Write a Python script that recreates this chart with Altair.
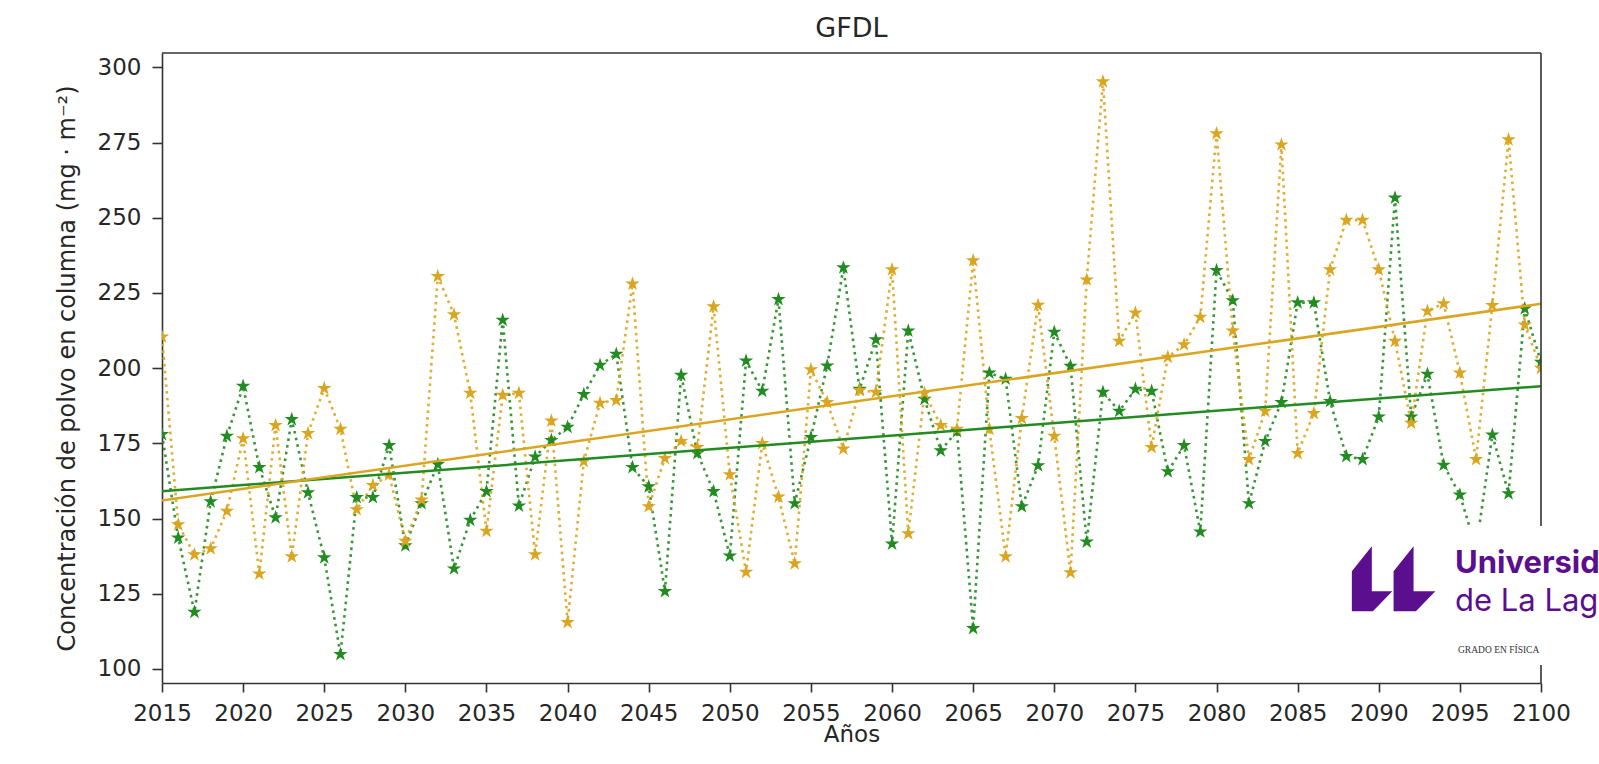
import altair as alt
import pandas as pd

years = list(range(2015, 2101))

green = [178, 143.6, 118.9, 155.6, 177.4, 194, 167, 150.3, 183, 158.6,
         137, 104.8, 157, 157, 174.3, 141, 155, 168, 133.3, 149.5,
         159, 216, 154.2, 170.5, 176, 180.4, 191.3, 201, 204.7, 167,
         160.6, 125.8, 197.7, 171.7, 159, 137.6, 202.4, 192.4, 222.9, 155,
         177, 200.8, 233.4, 193, 209.5, 141.6, 212.4, 189.7, 172.6, 179,
         113.5, 198.4, 196.4, 154, 167.6, 212, 200.7, 142.2, 192, 185.7,
         193, 192.4, 165.6, 174.3, 145.6, 232.5, 222.5, 155, 175.7, 188.6,
         221.8, 221.8, 189, 170.7, 169.7, 183.8, 256.6, 183.8, 198, 167.8,
         157.9, 140, 177.8, 158.3, 219.8, 202]

orange = [210.4, 148, 138, 140, 152.5, 176.6, 131.6, 181, 137.3, 178.3,
          193.3, 179.7, 153, 161, 164.5, 142.5, 156.2, 230.5, 217.8, 191.7,
          145.8, 191, 191.7, 138, 182.5, 115.5, 169, 188.4, 189.3, 228,
          154, 170, 175.7, 173.7, 220.5, 164.6, 132.2, 175, 157.2, 135,
          199.5, 188.6, 173.2, 192.6, 192, 232.8, 145, 191.7, 181, 179.7,
          235.8, 179.7, 137.3, 183.3, 221, 177.4, 132, 229.4, 295.3, 209,
          218.4, 173.7, 203.7, 207.8, 217, 278, 212.4, 169.7, 185.7, 274.3,
          171.7, 185, 232.8, 249.2, 249.2, 232.8, 209, 181.7, 219, 221.5,
          198.4, 169.7, 220.9, 276, 214.4, 200]

series = ["verde", "naranja"]
colors = ["#228B22", "#DAA520"]
x_ticks = list(range(2015, 2101, 5))
y_ticks = list(range(100, 301, 25))

df = pd.DataFrame({
    "year": years + years,
    "value": green + orange,
    "serie": [series[0]] * len(years) + [series[1]] * len(years),
})

FONT = "DejaVu Sans"
TXT = "#262626"
FRAME = "#333333"
PURPLE = "#5b0f8e"
W, H = 1379, 630

STAR = ("M0,-1 L0.2245,-0.309 L0.951,-0.309 L0.363,0.118 L0.588,0.809 "
        "L0,0.382 L-0.588,0.809 L-0.363,0.118 L-0.951,-0.309 L-0.2245,-0.309 Z")

xenc = alt.X("year:Q", scale=alt.Scale(domain=[2015, 2100], nice=False, zero=False),
             axis=alt.Axis(values=x_ticks, format="d", title="Años", labelFlush=False))
yenc = alt.Y("value:Q", scale=alt.Scale(domain=[95.3, 304.8], nice=False, zero=False),
             axis=alt.Axis(values=y_ticks, title="Concentración de polvo en columna (mg · m⁻²)"))
cenc = alt.Color("serie:N", scale=alt.Scale(domain=series, range=colors), legend=None)

base = alt.Chart(df)

lines = base.mark_line(strokeDash=[2.6, 4.2], strokeWidth=2.6, opacity=0.9, clip=True).encode(
    x=xenc, y=yenc, color=cenc, detail="serie:N")
points = base.mark_point(shape=STAR, filled=True, size=230, opacity=1, clip=True).encode(
    x=xenc, y=yenc, color=cenc)
trend = base.transform_regression("year", "value", groupby=["serie"]).mark_line(
    strokeWidth=2.5, clip=True).encode(x=xenc, y=yenc, color=cenc)

one = alt.Chart(pd.DataFrame({"a": [0]}))
frame_top = one.mark_rule(color=FRAME, strokeWidth=1.6).encode(
    x=alt.value(0), x2=alt.value(W), y=alt.value(0))
frame_right = one.mark_rule(color=FRAME, strokeWidth=1.6).encode(
    x=alt.value(W), y=alt.value(0), y2=alt.value(H))
cover = one.mark_rect(color="white").encode(
    x=alt.value(1160), x2=alt.value(1440), y=alt.value(473), y2=alt.value(612))

logo_path = ("M-1,-0.178 L-0.526,-0.771 L-0.526,0.297 L-0.04,0.297 L-0.5,0.771 L-1,0.771 Z "
             "M-0.01,-0.178 L0.464,-0.771 L0.464,0.297 L0.98,0.297 L0.52,0.771 L-0.01,0.771 Z")
logo = one.mark_point(shape=logo_path, filled=True, color=PURPLE, opacity=1, size=7106).encode(
    x=alt.value(1232), y=alt.value(525.7))
t1 = one.mark_text(text="Universidad", align="left", baseline="alphabetic", font="Inter",
                   fontWeight="bold", fontSize=31, color=PURPLE).encode(
    x=alt.value(1293), y=alt.value(520))
t2 = one.mark_text(text="de La Laguna", align="left", baseline="alphabetic", font="Inter",
                   fontSize=31, color=PURPLE).encode(
    x=alt.value(1293), y=alt.value(558))
t3 = one.mark_text(text="GRADO EN FÍSICA", align="left", baseline="alphabetic",
                   font="Liberation Serif", fontSize=9.5, color="#333333").encode(
    x=alt.value(1296), y=alt.value(599.5))

chart = alt.layer(lines, points, trend, frame_top, frame_right, cover, logo, t1, t2, t3).properties(
    width=W, height=H,
    title=alt.TitleParams("GFDL", fontSize=27, font=FONT, fontWeight="normal", color=TXT, offset=9),
    autosize=alt.AutoSizeParams(type="none"),
    padding={"left": 162, "top": 53, "right": 58, "bottom": 81},
).configure_view(stroke=None).configure_axis(
    grid=False, domainColor=FRAME, domainWidth=1.6, tickColor=FRAME, tickWidth=1.6,
    labelFont=FONT, labelFontSize=23, labelColor=TXT, titleFont=FONT, titleFontSize=23,
    titleColor=TXT, titleFontWeight="normal",
).configure_axisX(tickSize=9, labelPadding=10, titlePadding=-2).configure_axisY(
    tickSize=10, labelPadding=11, titlePadding=18, titleFontSize=24)

chart.save("out.html", embed_options={"renderer": "svg", "actions": False})
